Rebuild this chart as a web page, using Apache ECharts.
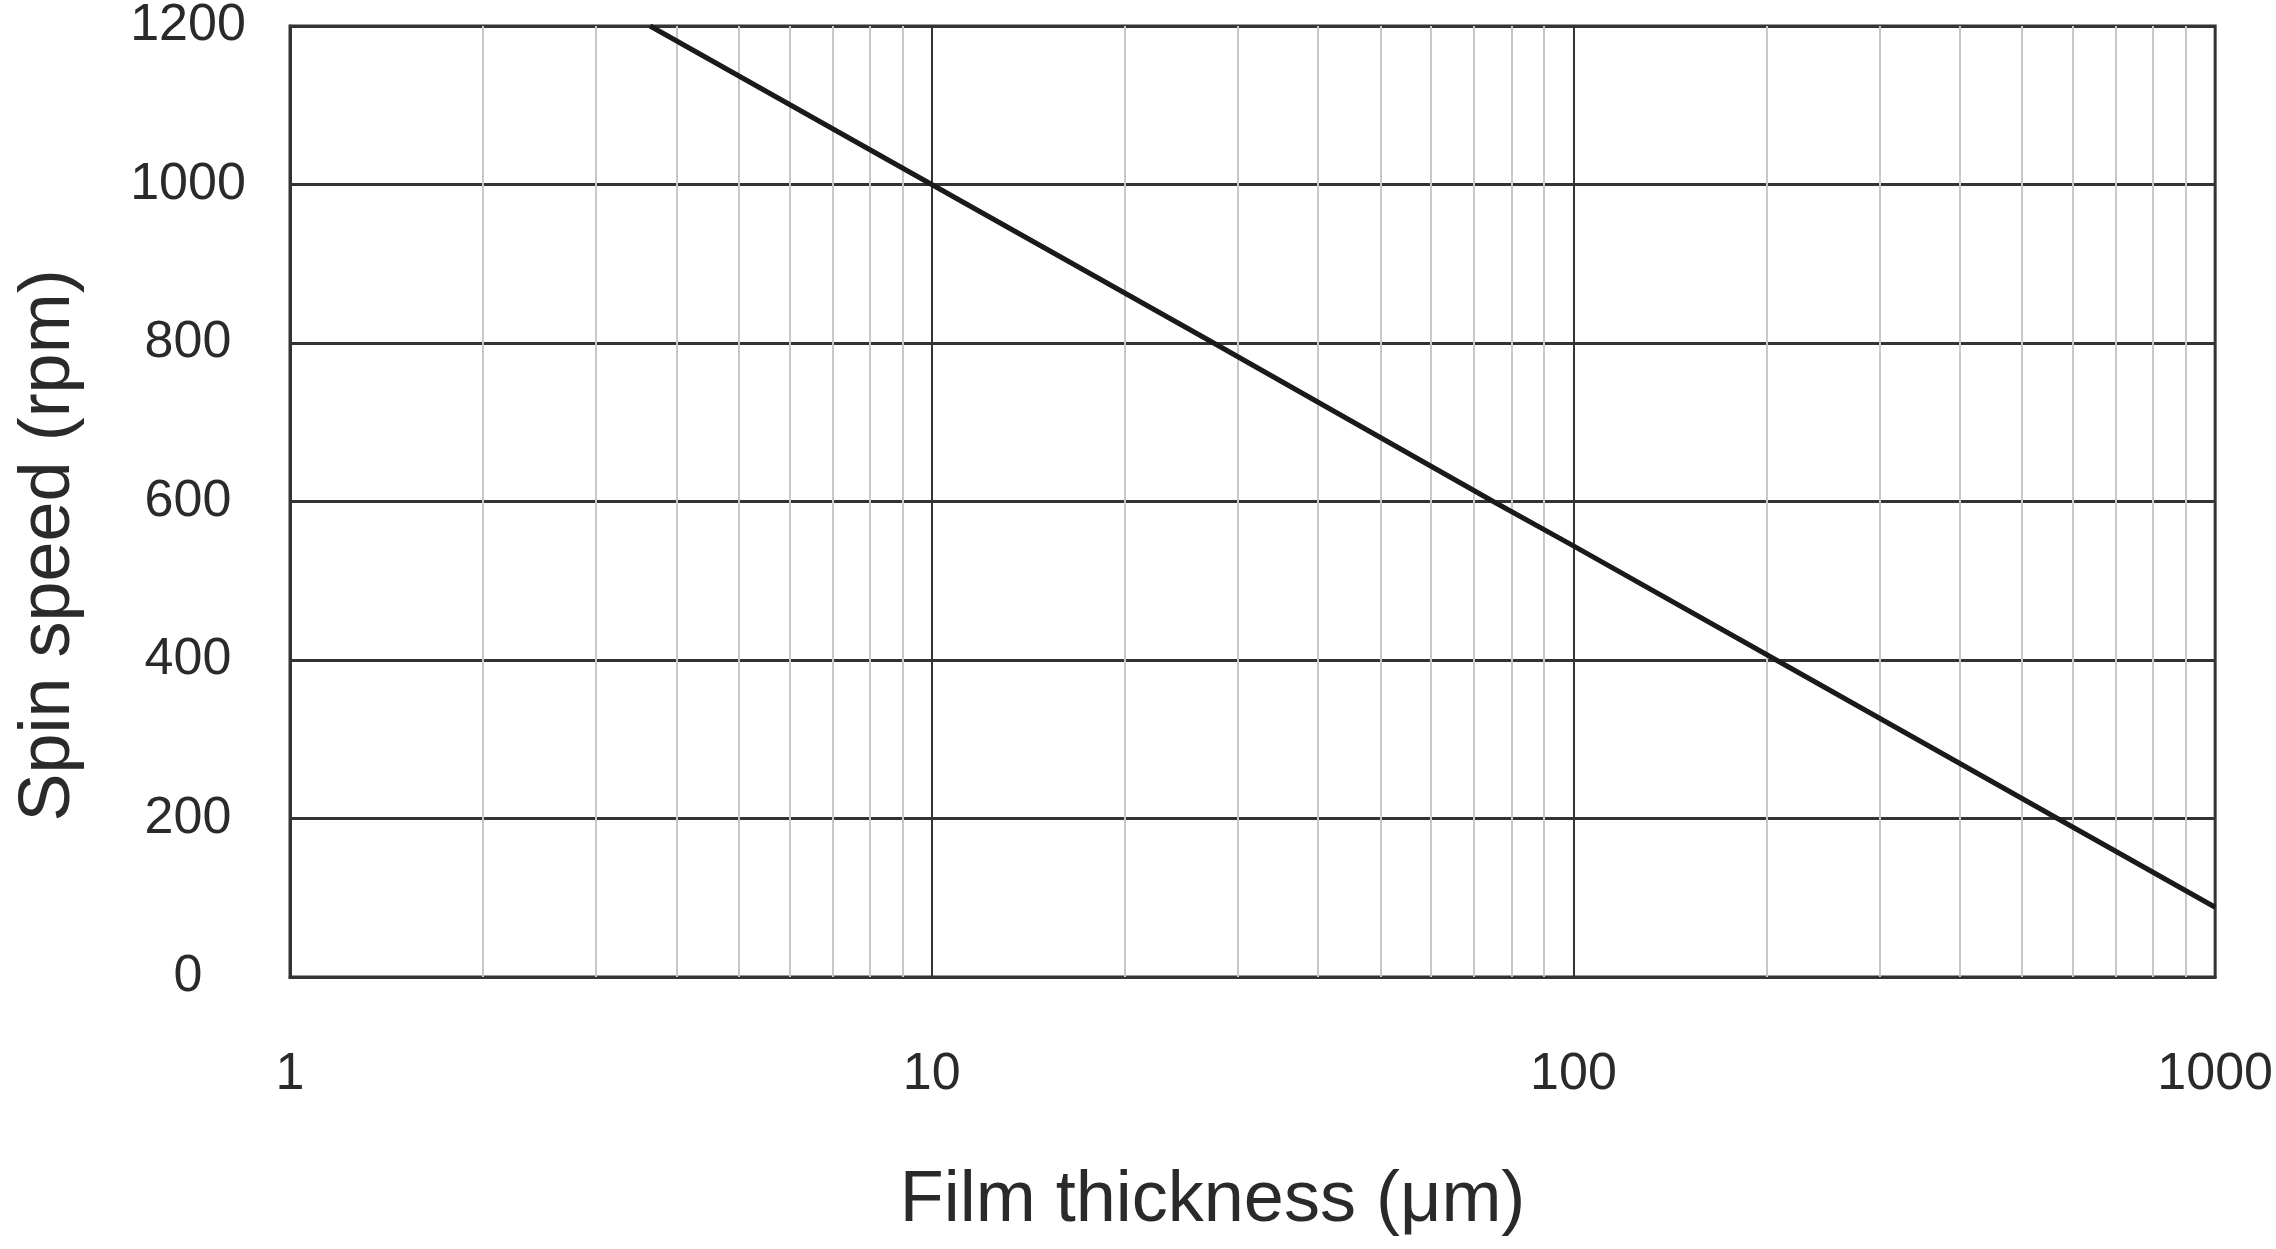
<!DOCTYPE html>
<html><head><meta charset="utf-8">
<script src="https://cdn.jsdelivr.net/npm/echarts@6/dist/echarts.min.js"></script>
<style>html,body{margin:0;padding:0;background:#fff}#c{width:2276px;height:1249px}</style>
</head><body><div id="c"></div>
<script>
// Data (log-x, linear-y)
const thickness = [3.64, 10, 27.5, 75, 100, 207, 568, 1000];
const spinSpeed = [1200, 1000, 800, 600, 544, 400, 200, 88];
const xTickLabels = [1, 10, 100, 1000];
const yTickLabels = [0, 200, 400, 600, 800, 1000, 1200];
const minorX = [2,3,4,5,6,7,8,9,20,30,40,50,60,70,80,90,200,300,400,500,600,700,800,900];

const FONT = '"Liberation Sans", Arial, sans-serif';
const TXT = '#2a2a2a';
const chart = echarts.init(document.getElementById('c'), null, {renderer: 'canvas'});
chart.setOption({
  animation: false,
  backgroundColor: '#ffffff',
  grid: {left: 290, right: 55, top: 26, bottom: 272, show: true, borderColor: '#333', borderWidth: 3, backgroundColor: 'transparent'},
  xAxis: {
    type: 'log', logBase: 10, min: xTickLabels[0], max: xTickLabels[xTickLabels.length-1], z: 3,
    name: 'Film thickness (\u03bcm)', nameLocation: 'middle', nameGap: 188,
    nameTextStyle: {fontFamily: FONT, fontSize: 72, color: TXT, padding: [0, 80, 0, 0]},
    axisLine: {lineStyle: {color: '#333', width: 3}},
    axisTick: {show: false},
    axisLabel: {fontFamily: FONT, fontSize: 52, color: TXT, margin: 72, formatter: v => String(v)},
    splitLine: {show: true, lineStyle: {color: '#333', width: 2}}
  },
  yAxis: {
    type: 'value', min: yTickLabels[0], max: yTickLabels[yTickLabels.length-1], interval: 200, z: 3,
    name: 'Spin speed (rpm)', nameLocation: 'middle', nameGap: 205,
    nameTextStyle: {fontFamily: FONT, fontSize: 72, color: TXT, padding: [0, 88, 0, 0]},
    axisLine: {lineStyle: {color: '#333', width: 3}},
    axisTick: {show: false},
    axisLabel: {fontFamily: FONT, fontSize: 52, color: TXT, margin: 102, align: 'center', formatter: v => String(v)},
    splitLine: {show: true, lineStyle: {color: '#333', width: 3}}
  },
  series: [
    {
      type: 'line', data: [], z: 1, silent: true,
      markLine: {
        silent: true, symbol: ['none','none'], animation: false,
        label: {show: false},
        lineStyle: {color: '#c8c8c8', width: 2, type: 'solid'},
        data: minorX.map(v => ({xAxis: v}))
      }
    },
    {
      type: 'line', z: 5,
      data: thickness.map((t, i) => [t, spinSpeed[i]]),
      showSymbol: false, symbol: 'none',
      lineStyle: {color: '#1a1a1a', width: 5}
    }
  ]
});
</script></body></html>
